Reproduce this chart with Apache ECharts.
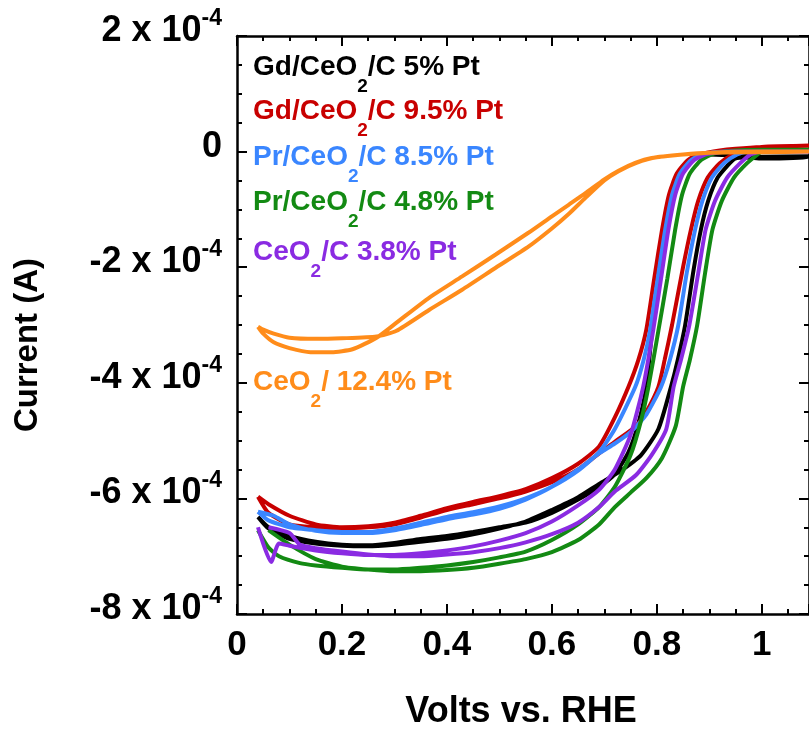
<!DOCTYPE html>
<html>
<head>
<meta charset="utf-8">
<script src="https://cdn.jsdelivr.net/npm/echarts@6/dist/echarts.min.js"></script>
<style>
  html, body { margin: 0; padding: 0; background: #ffffff; }
  #chart { width: 809px; height: 731px; }
</style>
</head>
<body>
<div id="chart"></div>
<script>
// Potentials in V vs. RHE, currents in units of 1e-4 A.
// Each loop: lower half-wave branch going up, upper half-wave branch coming back.

// Gd/CeO2/C 5% Pt
const gd5V = [0.04, 0.06, 0.1, 0.15, 0.2, 0.25, 0.3, 0.35, 0.4, 0.45, 0.5, 0.55, 0.6, 0.65, 0.69, 0.72, 0.746, 0.765, 0.78, 0.791, 0.805, 0.818, 0.831, 0.846, 0.868, 0.9, 0.95, 1.0, 1.09,
              1.09, 1.0, 0.97, 0.949, 0.939, 0.916, 0.898, 0.884, 0.87, 0.854, 0.84, 0.827, 0.803, 0.77, 0.727, 0.69, 0.65, 0.6, 0.55, 0.5, 0.45, 0.4, 0.35, 0.3, 0.25, 0.2, 0.15, 0.1, 0.06, 0.04];
const gd5I = [-6.32, -6.5, -6.65, -6.75, -6.8, -6.81, -6.77, -6.7, -6.65, -6.58, -6.5, -6.42, -6.25, -6.02, -5.8, -5.58, -5.2, -4.7, -4.07, -3.1, -2.2, -1.35, -0.75, -0.38, -0.14, -0.05, -0.07, -0.09, -0.08,
              -0.1, -0.12, -0.1, -0.12, -0.2, -0.45, -0.85, -1.35, -2.05, -3.0, -3.6, -4.07, -4.8, -5.25, -5.55, -5.75, -5.98, -6.2, -6.4, -6.52, -6.62, -6.7, -6.75, -6.8, -6.83, -6.82, -6.78, -6.7, -6.52, -6.32];

// Gd/CeO2/C 9.5% Pt
const gd95V = [0.04, 0.06, 0.1, 0.15, 0.2, 0.25, 0.3, 0.35, 0.4, 0.45, 0.5, 0.55, 0.6, 0.65, 0.69, 0.72, 0.746, 0.765, 0.78, 0.795, 0.81, 0.823, 0.838, 0.86, 0.885, 0.92, 0.95, 1.0, 1.09,
               1.09, 1.0, 0.965, 0.945, 0.92, 0.897, 0.879, 0.865, 0.85, 0.829, 0.815, 0.803, 0.78, 0.76, 0.72, 0.69, 0.65, 0.6, 0.55, 0.5, 0.45, 0.4, 0.35, 0.3, 0.25, 0.2, 0.15, 0.1, 0.06, 0.04];
const gd95I = [-5.97, -6.1, -6.3, -6.45, -6.5, -6.48, -6.42, -6.3, -6.17, -6.06, -5.96, -5.84, -5.65, -5.4, -5.1, -4.6, -4.07, -3.6, -3.08, -2.2, -1.35, -0.75, -0.38, -0.14, -0.04, 0.02, 0.05, 0.08, 0.1,
               0.1, 0.08, 0.0, -0.05, -0.2, -0.45, -0.85, -1.35, -2.0, -3.0, -3.6, -4.07, -4.5, -4.75, -5.02, -5.22, -5.5, -5.72, -5.88, -6.0, -6.1, -6.2, -6.33, -6.45, -6.5, -6.52, -6.5, -6.45, -6.25, -5.97];

// Pr/CeO2/C 8.5% Pt
const pr85V = [0.04, 0.06, 0.1, 0.15, 0.2, 0.25, 0.3, 0.35, 0.4, 0.45, 0.5, 0.55, 0.6, 0.65, 0.69, 0.72, 0.759, 0.775, 0.787, 0.8, 0.816, 0.829, 0.844, 0.866, 0.891, 0.93, 1.0, 1.09,
               1.09, 1.0, 0.973, 0.953, 0.928, 0.905, 0.887, 0.873, 0.857, 0.841, 0.825, 0.808, 0.78, 0.75, 0.72, 0.69, 0.65, 0.6, 0.55, 0.5, 0.45, 0.4, 0.35, 0.3, 0.25, 0.2, 0.15, 0.1, 0.07, 0.04];
const pr85I = [-6.23, -6.38, -6.5, -6.55, -6.58, -6.58, -6.52, -6.42, -6.32, -6.24, -6.14, -6.0, -5.8, -5.52, -5.2, -4.8, -4.07, -3.6, -3.1, -2.3, -1.35, -0.75, -0.38, -0.14, -0.04, 0.0, 0.02, 0.02,
               0.02, 0.02, 0.0, -0.05, -0.2, -0.45, -0.85, -1.35, -2.1, -3.0, -3.6, -4.07, -4.55, -4.85, -5.05, -5.22, -5.5, -5.8, -6.02, -6.18, -6.28, -6.36, -6.46, -6.55, -6.6, -6.6, -6.56, -6.45, -6.3, -6.23];

// Pr/CeO2/C 4.8% Pt
const pr48V = [0.04, 0.06, 0.08, 0.12, 0.15, 0.2, 0.25, 0.3, 0.35, 0.4, 0.45, 0.5, 0.55, 0.6, 0.65, 0.69, 0.72, 0.75, 0.77, 0.784, 0.803, 0.82, 0.835, 0.848, 0.863, 0.885, 0.91, 0.95, 1.0, 1.09,
               1.09, 1.0, 0.992, 0.972, 0.947, 0.924, 0.906, 0.892, 0.877, 0.863, 0.85, 0.836, 0.81, 0.78, 0.75, 0.72, 0.69, 0.65, 0.6, 0.55, 0.5, 0.45, 0.4, 0.35, 0.3, 0.25, 0.2, 0.15, 0.1, 0.06, 0.04];
const pr48I = [-6.55, -6.85, -7.0, -7.12, -7.16, -7.2, -7.23, -7.23, -7.2, -7.16, -7.1, -7.02, -6.92, -6.72, -6.45, -6.15, -5.8, -5.25, -4.65, -4.07, -3.1, -2.2, -1.35, -0.75, -0.38, -0.14, -0.03, 0.02, 0.03, 0.03,
               0.03, 0.0, -0.05, -0.2, -0.45, -0.85, -1.35, -2.1, -3.0, -3.6, -4.07, -4.75, -5.3, -5.65, -5.9, -6.15, -6.45, -6.72, -6.93, -7.05, -7.13, -7.2, -7.24, -7.26, -7.26, -7.23, -7.18, -7.05, -6.8, -6.55];

// CeO2/C 3.8% Pt
const ce38V = [0.04, 0.065, 0.08, 0.1, 0.15, 0.2, 0.25, 0.3, 0.35, 0.4, 0.45, 0.5, 0.55, 0.6, 0.65, 0.69, 0.72, 0.75, 0.774, 0.793, 0.808, 0.822, 0.835, 0.85, 0.872, 0.897, 0.94, 1.0, 1.09,
               1.09, 1.0, 0.979, 0.959, 0.934, 0.911, 0.893, 0.879, 0.862, 0.846, 0.832, 0.818, 0.79, 0.76, 0.72, 0.69, 0.65, 0.6, 0.55, 0.5, 0.45, 0.4, 0.35, 0.3, 0.25, 0.2, 0.15, 0.12, 0.1, 0.06, 0.04];
const ce38I = [-6.5, -7.1, -6.78, -6.82, -6.9, -6.95, -6.98, -6.98, -6.95, -6.9, -6.83, -6.73, -6.6, -6.4, -6.12, -5.85, -5.5, -4.9, -4.07, -3.1, -2.2, -1.35, -0.75, -0.38, -0.14, -0.04, 0.0, 0.0, 0.0,
               0.0, 0.0, -0.05, -0.2, -0.45, -0.85, -1.35, -2.1, -3.0, -3.6, -4.07, -4.8, -5.25, -5.6, -5.88, -6.15, -6.42, -6.62, -6.76, -6.86, -6.93, -6.97, -7.0, -7.0, -6.97, -6.92, -6.86, -6.8, -6.6, -6.5];

// CeO2/ 12.4% Pt
const ce124V = [0.04, 0.05, 0.07, 0.1, 0.14, 0.18, 0.22, 0.266, 0.304, 0.366, 0.429, 0.493, 0.556, 0.6, 0.632, 0.664, 0.7, 0.727, 0.76, 0.79, 0.85, 0.9, 1.0, 1.09,
                1.09, 1.0, 0.9, 0.8, 0.76, 0.727, 0.7, 0.664, 0.632, 0.6, 0.556, 0.493, 0.429, 0.366, 0.304, 0.266, 0.2, 0.15, 0.1, 0.07, 0.05, 0.04];
const ce124I = [-3.03, -3.15, -3.3, -3.4, -3.47, -3.47, -3.42, -3.22, -2.96, -2.53, -2.16, -1.78, -1.4, -1.12, -0.92, -0.72, -0.48, -0.33, -0.19, -0.11, -0.05, -0.02, -0.01, 0.0,
                0.0, 0.0, -0.02, -0.1, -0.2, -0.34, -0.5, -0.8, -1.08, -1.33, -1.64, -2.01, -2.39, -2.74, -3.1, -3.2, -3.23, -3.24, -3.22, -3.15, -3.08, -3.03];

// Legend labels and colours
const seriesNames = ['Gd/CeO2/C 5% Pt', 'Gd/CeO2/C 9.5% Pt', 'Pr/CeO2/C 8.5% Pt', 'Pr/CeO2/C 4.8% Pt', 'CeO2/C 3.8% Pt', 'CeO2/ 12.4% Pt'];
const legendRich = ['Gd/CeO{s|2}/C 5% Pt', 'Gd/CeO{s|2}/C 9.5% Pt', 'Pr/CeO{s|2}/C 8.5% Pt', 'Pr/CeO{s|2}/C 4.8% Pt', 'CeO{s|2}/C 3.8% Pt', 'CeO{s|2}/ 12.4% Pt'];
const colors = ['#000000', '#c80000', '#3a86ff', '#138a13', '#8a2be2', '#ff8c1a'];

// Axis ticks
const xTicks = [0, 0.2, 0.4, 0.6, 0.8, 1.0];
const yTicks = [-8, -6, -4, -2, 0, 2];

const loops = [[gd5V, gd5I], [gd95V, gd95I], [pr85V, pr85I], [pr48V, pr48I], [ce38V, ce38I], [ce124V, ce124I]];
const pairs = (v, i) => v.map((x, k) => [x, i[k]]);

const FONT = '"Liberation Sans", Arial, sans-serif';
const chart = echarts.init(document.getElementById('chart'), null, { renderer: 'canvas' });

const GRID = { left: 237, top: 36, width: 574, height: 578 };
const legendY = [67, 111.5, 157, 202.5, 252.5, 382.5];

const axisLineStyle = { color: '#000', width: 2.5 };
const tickStyle = { color: '#000', width: 2 };

const option = {
  animation: false,
  backgroundColor: '#ffffff',
  textStyle: { fontFamily: FONT },
  grid: GRID,
  xAxis: [
    {
      type: 'value', min: 0, max: 1.09, interval: 0.2, position: 'bottom',
      axisLine: { show: true, onZero: false, lineStyle: axisLineStyle },
      axisTick: { show: true, inside: true, length: 10, lineStyle: tickStyle },
      minorTick: { show: true, splitNumber: 4, length: 5, lineStyle: tickStyle },
      splitLine: { show: false },
      axisLabel: {
        show: true, margin: 14, fontSize: 35, fontWeight: 'bold', color: '#000', fontFamily: FONT,
        showMaxLabel: false,
        formatter: v => xTicks.some(t => Math.abs(t - v) < 1e-6) ? String(Math.round(v * 10) / 10) : ''
      }
    },
    {
      type: 'value', min: 0, max: 1.09, interval: 0.2, position: 'top',
      axisLine: { show: true, onZero: false, lineStyle: axisLineStyle },
      axisTick: { show: true, inside: true, length: 10, lineStyle: tickStyle },
      minorTick: { show: true, splitNumber: 4, length: 5, lineStyle: tickStyle },
      splitLine: { show: false },
      axisLabel: { show: false }
    }
  ],
  yAxis: [
    {
      type: 'value', min: -8, max: 2, interval: 2, position: 'left',
      axisLine: { show: true, onZero: false, lineStyle: axisLineStyle },
      axisTick: { show: true, inside: true, length: 10, lineStyle: tickStyle },
      minorTick: { show: true, splitNumber: 4, length: 5, lineStyle: tickStyle },
      splitLine: { show: false },
      axisLabel: {
        show: true, margin: 15, fontSize: 36, fontWeight: 'bold', color: '#000', fontFamily: FONT,
        lineHeight: 48, padding: [0, 0, 10, 0],
        formatter: v => {
          const n = yTicks.find(t => Math.abs(t - v) < 1e-6);
          if (n === undefined) return '';
          return n === 0 ? '0' : n + ' x 10{sup|-4}';
        },
        rich: {
          sup: { fontSize: 23, fontWeight: 'bold', color: '#000', fontFamily: FONT, verticalAlign: 'top', lineHeight: 24 }
        }
      }
    },
    {
      type: 'value', min: -8, max: 2, interval: 2, position: 'right',
      axisLine: { show: true, onZero: false, lineStyle: axisLineStyle },
      axisTick: { show: true, inside: true, length: 10, lineStyle: tickStyle },
      minorTick: { show: true, splitNumber: 4, length: 5, lineStyle: tickStyle },
      splitLine: { show: false },
      axisLabel: { show: false }
    }
  ],
  series: loops.map((lp, k) => ({
    name: seriesNames[k],
    type: 'line',
    data: pairs(lp[0], lp[1]),
    showSymbol: false,
    symbol: 'none',
    smooth: 0.2,
    clip: true,
    lineStyle: { color: colors[k], width: 4 },
    z: 2 + k
  })),
  graphic: [
    ...legendRich.map((t, k) => ({
      type: 'text', x: 253, y: legendY[k], z: 20,
      style: {
        text: t, fill: colors[k], fontSize: 28, fontWeight: 'bold', fontFamily: FONT,
        verticalAlign: 'middle', align: 'left', lineHeight: 58,
        rich: {
          s: { fontSize: 19, fontWeight: 'bold', fontFamily: FONT, fill: colors[k], verticalAlign: 'bottom', lineHeight: 20 }
        }
      }
    })),
    {
      type: 'text', x: 521, y: 712, z: 20,
      style: { text: 'Volts vs. RHE', fill: '#000', fontSize: 36, fontWeight: 'bold', fontFamily: FONT, align: 'center', verticalAlign: 'middle' }
    },
    {
      type: 'text', x: 28, y: 345, rotation: Math.PI / 2, z: 20,
      style: { text: 'Current (A)', fill: '#000', fontSize: 33, fontWeight: 'bold', fontFamily: FONT, align: 'center', verticalAlign: 'middle' }
    }
  ]
};

chart.setOption(option);
</script>
</body>
</html>
